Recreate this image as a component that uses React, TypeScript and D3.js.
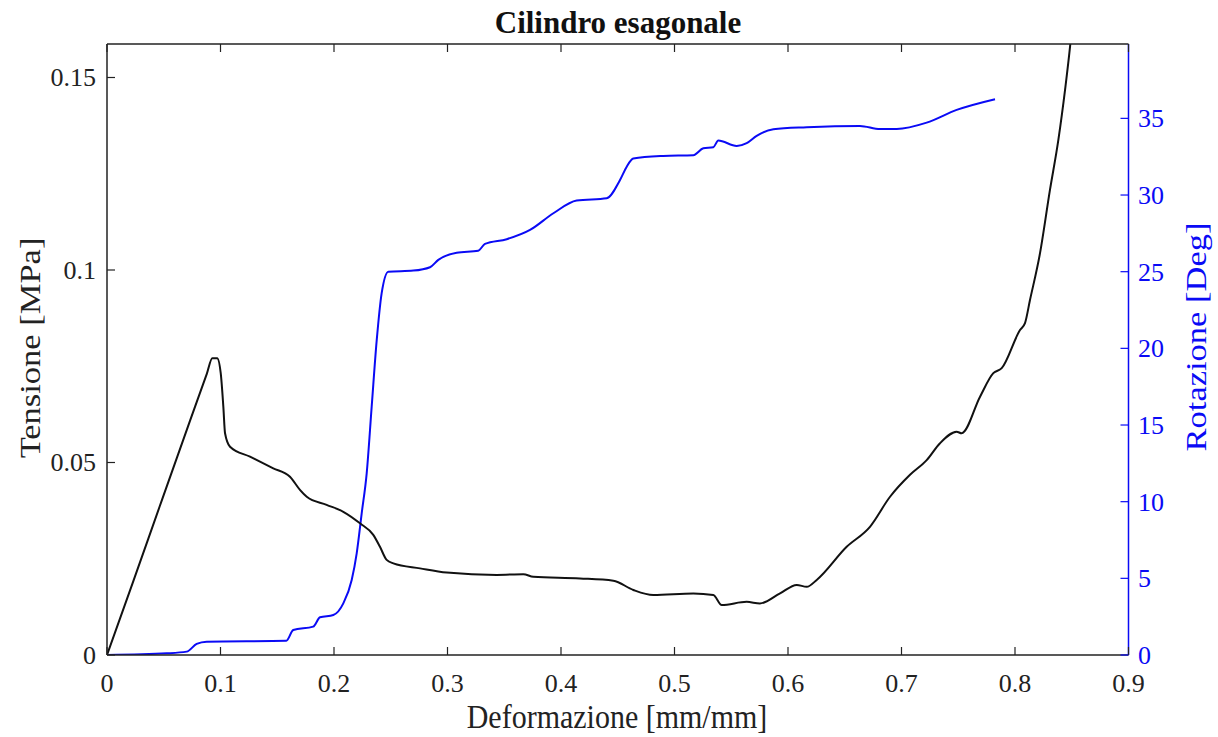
import React from "react";
import * as d3 from "d3";

const W = 1218;
const H = 737;

const xTicks = [0, 0.1, 0.2, 0.3, 0.4, 0.5, 0.6, 0.7, 0.8, 0.9];
const yLeftTicks = [0, 0.05, 0.1, 0.15];
const yRightTicks = [0, 5, 10, 15, 20, 25, 30, 35];

// Tensione [MPa] vs Deformazione
const stressX = [0, 0.0232, 0.0463, 0.0731, 0.088, 0.0928, 0.0971, 0.1002, 0.1025, 0.104, 0.1084, 0.126, 0.1465, 0.1612, 0.17, 0.176, 0.1935, 0.2082, 0.2229, 0.2346, 0.2405, 0.2464, 0.2523, 0.2758, 0.2993, 0.3433, 0.3668, 0.3756, 0.4167, 0.4461, 0.4637, 0.4813, 0.5166, 0.5342, 0.5416, 0.5636, 0.5753, 0.593, 0.6077, 0.6165, 0.6253, 0.6517, 0.6722, 0.6899, 0.7075, 0.7222, 0.7339, 0.7486, 0.753, 0.7692, 0.7809, 0.7883, 0.8044, 0.8088, 0.8132, 0.822, 0.8308, 0.8382, 0.8441, 0.8485, 0.8505];
const stressY = [0, 0.0192, 0.0385, 0.0608, 0.0731, 0.0771, 0.0771, 0.0732, 0.0645, 0.0576, 0.0541, 0.0515, 0.0485, 0.0463, 0.0429, 0.0411, 0.039, 0.0372, 0.0342, 0.0312, 0.0281, 0.0247, 0.0238, 0.0225, 0.0214, 0.0208, 0.021, 0.0203, 0.0199, 0.0193, 0.0169, 0.0156, 0.016, 0.0156, 0.013, 0.0138, 0.0134, 0.016, 0.0182, 0.0177, 0.0195, 0.0281, 0.0333, 0.0411, 0.0468, 0.0506, 0.055, 0.058, 0.0576, 0.0671, 0.0732, 0.0745, 0.0844, 0.0862, 0.0922, 0.1043, 0.1208, 0.1338, 0.1468, 0.158, 0.164];

// Rotazione [Deg] vs Deformazione
const rotX = [0, 0.0526, 0.0702, 0.079, 0.0878, 0.158, 0.1641, 0.1817, 0.1877, 0.1994, 0.2082, 0.2156, 0.22, 0.2244, 0.2288, 0.2332, 0.2376, 0.242, 0.2479, 0.2699, 0.2846, 0.2919, 0.3081, 0.3271, 0.333, 0.3522, 0.3727, 0.3933, 0.4138, 0.4403, 0.452, 0.4579, 0.4637, 0.4901, 0.5166, 0.5254, 0.5342, 0.5386, 0.5548, 0.5636, 0.5724, 0.5871, 0.6165, 0.6634, 0.6811, 0.6958, 0.7222, 0.7486, 0.7824];
const rotY = [0, 0.11, 0.22, 0.72, 0.87, 0.93, 1.63, 1.85, 2.46, 2.61, 3.37, 4.89, 6.63, 9.24, 11.85, 16.2, 20.5, 23.6, 25.0, 25.07, 25.29, 25.77, 26.24, 26.37, 26.81, 27.12, 27.72, 28.81, 29.64, 29.79, 30.98, 31.85, 32.38, 32.55, 32.6, 33.05, 33.12, 33.55, 33.2, 33.38, 33.86, 34.29, 34.42, 34.51, 34.31, 34.31, 34.72, 35.55, 36.25];

const L = 107, R = 1128.5, T = 44, B = 655;
const BLUE = "#0a0af5";
const FONT = "'Liberation Serif', 'DejaVu Serif', serif";

export default function App() {
  const x = d3.scaleLinear().domain([0, 0.9]).range([L, R]);
  const yL = d3.scaleLinear().domain([0, 0.1587]).range([B, T]);
  const yR = d3.scaleLinear().domain([0, 39.85]).range([B, T]);

  const stress = stressX.map((v, i) => [v, stressY[i]] as [number, number]);
  const rot = rotX.map((v, i) => [v, rotY[i]] as [number, number]);

  const lineL = d3.line<[number, number]>().x((d) => x(d[0])).y((d) => yL(d[1])).curve(d3.curveMonotoneX);
  const lineR = d3.line<[number, number]>().x((d) => x(d[0])).y((d) => yR(d[1])).curve(d3.curveMonotoneX);

  const tickLen = 8;
  return (
    <svg width={W} height={H} style={{ position: "absolute", left: 0, top: 0, background: "#fff" }} fontFamily={FONT}>
      <defs>
        <clipPath id="plotclip">
          <rect x={L} y={T} width={R - L} height={B - T} />
        </clipPath>
      </defs>
      <rect x={0} y={0} width={W} height={H} fill="#fff" />
      <g clipPath="url(#plotclip)" fill="none" strokeLinejoin="round">
        <path d={lineR(rot) || ""} stroke={BLUE} strokeWidth={2} />
        <path d={lineL(stress) || ""} stroke="#111" strokeWidth={2} />
      </g>
      <line x1={L} x2={R} y1={B} y2={B} stroke="#222" strokeWidth={1.5} />
      <line x1={L} x2={R} y1={T} y2={T} stroke="#222" strokeWidth={1.5} />
      <line x1={L} x2={L} y1={T} y2={B} stroke="#222" strokeWidth={1.5} />
      <line x1={R} x2={R} y1={T} y2={B} stroke={BLUE} strokeWidth={1.5} />
      {xTicks.map((t) => (
        <g key={"x" + t}>
          <line x1={x(t)} x2={x(t)} y1={B} y2={B - tickLen} stroke="#222" strokeWidth={1.2} />
          <line x1={x(t)} x2={x(t)} y1={T} y2={T + tickLen} stroke="#222" strokeWidth={1.2} />
          <text x={x(t)} y={692} textAnchor="middle" fontSize={26} fill="#222">{String(t)}</text>
        </g>
      ))}
      {yLeftTicks.map((t) => (
        <g key={"yl" + t}>
          <line x1={L} x2={L + tickLen} y1={yL(t)} y2={yL(t)} stroke="#222" strokeWidth={1.2} />
          <text x={96} y={yL(t) + 9} textAnchor="end" fontSize={26} fill="#222">{String(t)}</text>
        </g>
      ))}
      {yRightTicks.map((t) => (
        <g key={"yr" + t}>
          <line x1={R} x2={R - tickLen} y1={yR(t)} y2={yR(t)} stroke={BLUE} strokeWidth={1.2} />
          <text x={1138} y={yR(t) + 9} textAnchor="start" fontSize={26} fill={BLUE}>{String(t)}</text>
        </g>
      ))}
      <text transform="translate(618,33) scale(1,1.05)" textAnchor="middle" fontSize={31} fontWeight="bold" fill="#111">Cilindro esagonale</text>
      <text transform="translate(617,728) scale(1,1.15)" textAnchor="middle" fontSize={30} fill="#222">Deformazione [mm/mm]</text>
      <text transform="translate(40,348) rotate(-90) scale(1.15,1)" textAnchor="middle" fontSize={30} fill="#222">Tensione [MPa]</text>
      <text transform="translate(1206,337) rotate(-90) scale(1.15,1)" textAnchor="middle" fontSize={30} fill={BLUE}>Rotazione [Deg]</text>
    </svg>
  );
}
